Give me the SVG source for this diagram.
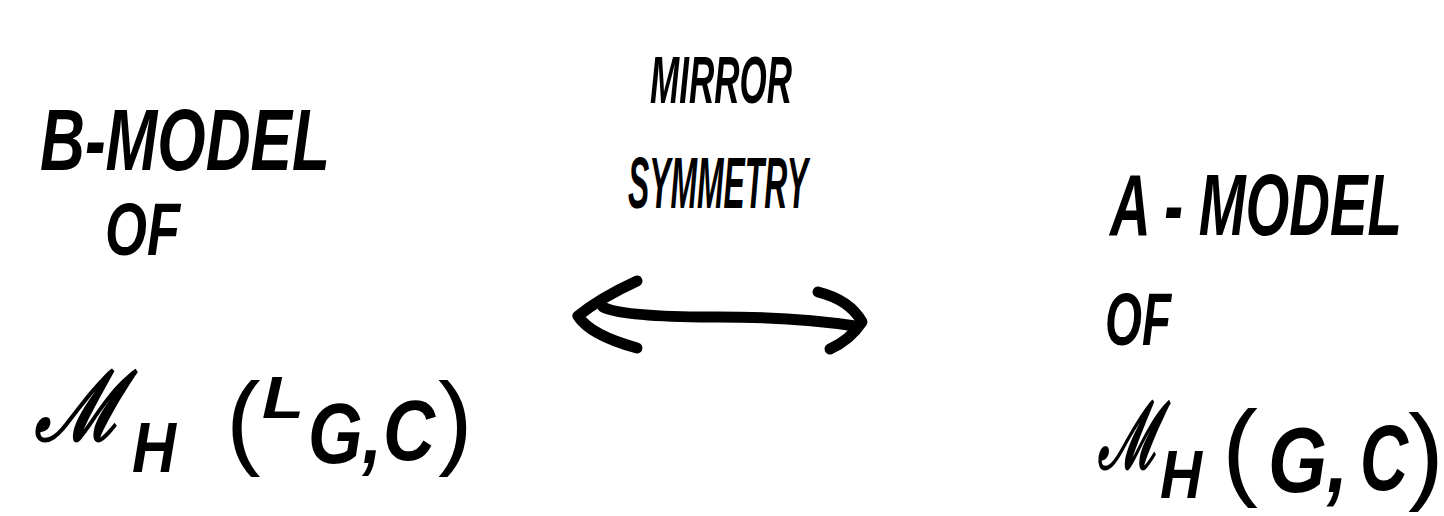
<svg xmlns="http://www.w3.org/2000/svg" width="1444" height="516" viewBox="0 0 1444 516">
<style>
.t{font-family:"Liberation Sans","DejaVu Sans",sans-serif;font-weight:bold;font-style:italic;fill:#000}
.p{font-family:"Liberation Sans","DejaVu Sans",sans-serif;fill:#000}
.m{font-family:"DejaVu Serif","Liberation Serif",serif;font-style:italic;fill:#000;stroke:#000;stroke-width:3}
.c{fill:none;stroke:#000;stroke-width:11;stroke-linecap:round;stroke-linejoin:round}
</style>
<rect width="1444" height="516" fill="#fff"/>
<g id="label-mirror">
<text class="t" x="650" y="103" font-size="66" textLength="142" lengthAdjust="spacingAndGlyphs">MIRROR</text>
<text class="t" x="628" y="208" font-size="72" textLength="180" lengthAdjust="spacingAndGlyphs">SYMMETRY</text>
</g>
<g id="node-b">
<text class="t" x="40" y="170" font-size="88" textLength="290" lengthAdjust="spacingAndGlyphs">B-MODEL</text>
<text class="t" x="105" y="255" font-size="74" textLength="75" lengthAdjust="spacingAndGlyphs">OF</text>
<text class="m" x="35" y="440" font-size="96" textLength="88" lengthAdjust="spacingAndGlyphs">ℳ</text>
<text class="t" x="132" y="472" font-size="70" textLength="44" lengthAdjust="spacingAndGlyphs">H</text>
<text class="p" x="226" y="455" font-size="104">(</text>
<text class="t" x="262" y="418" font-size="60" textLength="42" lengthAdjust="spacingAndGlyphs">L</text>
<text class="t" x="308" y="463" font-size="86" textLength="74" lengthAdjust="spacingAndGlyphs">G,</text>
<text class="t" x="383" y="460" font-size="86" textLength="52" lengthAdjust="spacingAndGlyphs">C</text>
<text class="p" x="438" y="455" font-size="104">)</text>
</g>
<g id="node-a">
<text class="t" x="1110" y="235" font-size="88" textLength="292" lengthAdjust="spacingAndGlyphs">A - MODEL</text>
<text class="t" x="1105" y="345" font-size="74" textLength="66" lengthAdjust="spacingAndGlyphs">OF</text>
<text class="m" x="1098" y="468" font-size="92" textLength="62" lengthAdjust="spacingAndGlyphs">ℳ</text>
<text class="t" x="1160" y="498" font-size="68" textLength="42" lengthAdjust="spacingAndGlyphs">H</text>
<text class="p" x="1222" y="486" font-size="108">(</text>
<text class="t" x="1268" y="492" font-size="92" textLength="80" lengthAdjust="spacingAndGlyphs">G,</text>
<text class="t" x="1360" y="490" font-size="92" textLength="48" lengthAdjust="spacingAndGlyphs">C</text>
<text class="p" x="1408" y="490" font-size="108">)</text>
</g>
<g id="connectors">
<path class="c" d="M637,281 Q600,298 578,316 Q590,335 637,348"/>
<path class="c" d="M603,307 Q620,316 700,317 Q790,316 855,326"/>
<path class="c" d="M818,292 Q850,300 862,322 Q850,340 830,349"/>
</g>
</svg>
